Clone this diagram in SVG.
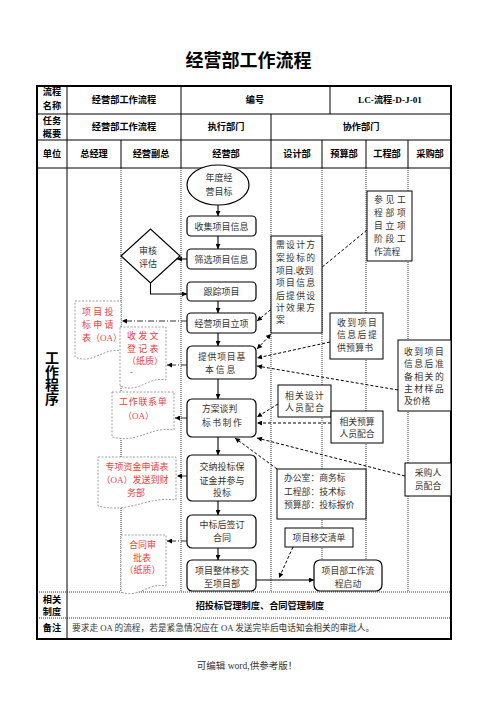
<svg xmlns="http://www.w3.org/2000/svg" width="496" height="702" viewBox="0 0 496 702">
<defs>
<marker id="ah" viewBox="0 0 10 10" refX="10" refY="5" markerWidth="6" markerHeight="5" markerUnits="userSpaceOnUse" orient="auto-start-reverse"><path d="M0,0 L10,5 L0,10 z" fill="#000"/></marker>
</defs>
<style>
text{font-family:"Liberation Serif","Noto Sans CJK SC",serif}
.tt{font-size:18px;font-weight:bold;text-anchor:middle;fill:#000}
.h{font-size:9.2px;font-weight:bold;text-anchor:middle;fill:#000}
.n{font-size:9px;text-anchor:middle;fill:#333}
.s{font-size:8.8px;fill:#333}
.r{font-size:9px;fill:#e8413c}
.box{fill:#fff;stroke:#000;stroke-width:1.2}
.note{fill:#fff;stroke:#000;stroke-width:1}
.doc{fill:#fff;stroke:#888;stroke-width:0.8;stroke-dasharray:2,1.5}
.grid{stroke:#000;stroke-width:1;fill:none}
.lane{stroke:#000;stroke-width:0.8;stroke-dasharray:1,1;fill:none}
.sol{stroke:#000;stroke-width:1.1;fill:none}
.dsh{stroke:#000;stroke-width:1;stroke-dasharray:3,2;fill:none}
.dd{stroke:#333;stroke-width:1;stroke-dasharray:6,2,1,2;fill:none}
</style>

<text class="tt" x="248.5" y="67">经营部工作流程</text>

<g id="table">
<rect x="37" y="86" width="414" height="553" fill="#fff" stroke="#000" stroke-width="2"/>
<line class="grid" x1="37" y1="114" x2="451" y2="114"/>
<line class="grid" x1="37" y1="140" x2="451" y2="140"/>
<line class="grid" x1="37" y1="168" x2="451" y2="168"/>
<line class="lane" x1="37" y1="592" x2="451" y2="592"/>
<line class="lane" x1="37" y1="618" x2="451" y2="618"/>
<line class="grid" x1="67" y1="86" x2="67" y2="639"/>
<line class="grid" x1="181" y1="86" x2="181" y2="168"/>
<line class="grid" x1="330" y1="86" x2="330" y2="114"/>
<line class="grid" x1="271" y1="114" x2="271" y2="168"/>
<line class="grid" x1="121" y1="140" x2="121" y2="168"/>
<line class="grid" x1="322" y1="140" x2="322" y2="168"/>
<line class="grid" x1="366" y1="140" x2="366" y2="168"/>
<line class="grid" x1="408" y1="140" x2="408" y2="168"/>
<line class="lane" x1="121" y1="168" x2="121" y2="592"/>
<line class="lane" x1="181" y1="168" x2="181" y2="592"/>
<line class="lane" x1="271" y1="168" x2="271" y2="592"/>
<line class="lane" x1="322" y1="168" x2="322" y2="592"/>
<line class="lane" x1="366" y1="168" x2="366" y2="592"/>
<line class="lane" x1="408" y1="168" x2="408" y2="592"/>

<text class="h" x="52" y="95">流程</text>
<text class="h" x="52" y="109">名称</text>
<text class="h" x="124" y="103">经营部工作流程</text>
<text class="h" x="255" y="103">编号</text>
<text class="h" x="390" y="103">LC-流程-D-J-01</text>
<text class="h" x="52" y="124">任务</text>
<text class="h" x="52" y="137">概要</text>
<text class="h" x="124" y="130">经营部工作流程</text>
<text class="h" x="226" y="130">执行部门</text>
<text class="h" x="361" y="130">协作部门</text>
<text class="h" x="52" y="157">单位</text>
<text class="h" x="94" y="157">总经理</text>
<text class="h" x="151" y="157">经营副总</text>
<text class="h" x="226" y="157">经营部</text>
<text class="h" x="297" y="157">设计部</text>
<text class="h" x="344" y="157">预算部</text>
<text class="h" x="387" y="157">工程部</text>
<text class="h" x="430" y="157">采购部</text>

<text x="52" y="363" style="font-size:14px;font-weight:bold;text-anchor:middle">工</text>
<text x="52" y="376.5" style="font-size:14px;font-weight:bold;text-anchor:middle">作</text>
<text x="52" y="390" style="font-size:14px;font-weight:bold;text-anchor:middle">程</text>
<text x="52" y="403.5" style="font-size:14px;font-weight:bold;text-anchor:middle">序</text>

<text class="h" x="52" y="603">相关</text>
<text class="h" x="52" y="615">制度</text>
<text class="h" x="260" y="609">招投标管理制度、合同管理制度</text>
<text class="h" x="52" y="631">备注</text>
<text x="72" y="631" style="font-size:8.7px;fill:#333">要求走 OA 的流程，若是紧急情况应在 OA 发送完毕后电话知会相关的审批人。</text>
</g>

<text x="247" y="669" style="font-size:9.5px;text-anchor:middle;fill:#333">可编辑 word,供参考版！</text>

<g id="connectors">
<line class="sol" x1="218" y1="205" x2="218" y2="216" marker-end="url(#ah)"/>
<line class="sol" x1="218" y1="236" x2="218" y2="249" marker-end="url(#ah)"/>
<line class="sol" x1="187" y1="259" x2="177" y2="259" marker-end="url(#ah)"/>
<polyline class="sol" points="150.5,283 150.5,294 187,294" marker-end="url(#ah)"/>
<line class="sol" x1="218" y1="301" x2="218" y2="313" marker-end="url(#ah)"/>
<line class="sol" x1="218" y1="333" x2="218" y2="346" marker-end="url(#ah)"/>
<line class="sol" x1="218" y1="379" x2="218" y2="399" marker-end="url(#ah)"/>
<line class="sol" x1="218" y1="437" x2="218" y2="455" marker-end="url(#ah)"/>
<line class="sol" x1="218" y1="501" x2="218" y2="515" marker-end="url(#ah)"/>
<line class="sol" x1="218" y1="548" x2="218" y2="560" marker-end="url(#ah)"/>
<line class="sol" x1="256" y1="580" x2="314" y2="580" marker-end="url(#ah)"/>

<line class="dd" x1="187" y1="321" x2="122" y2="321" marker-end="url(#ah)"/>
<line class="dd" x1="187" y1="365" x2="167" y2="365" marker-end="url(#ah)"/>
<line class="dd" x1="187" y1="418" x2="175" y2="418" marker-end="url(#ah)"/>
<line class="dd" x1="187" y1="476" x2="177" y2="476" marker-end="url(#ah)"/>
<line class="dd" x1="187" y1="541" x2="167" y2="541" marker-end="url(#ah)"/>

<line class="dsh" x1="367" y1="230" x2="257" y2="321" marker-end="url(#ah)"/>
<line class="dsh" x1="257" y1="349" x2="271" y2="334" marker-start="url(#ah)" marker-end="url(#ah)"/>
<line class="dsh" x1="330" y1="342" x2="257" y2="358" marker-end="url(#ah)"/>
<line class="dsh" x1="398" y1="390" x2="257" y2="366" marker-end="url(#ah)"/>
<line class="dsh" x1="278" y1="404" x2="257" y2="417" marker-end="url(#ah)"/>
<line class="dsh" x1="331" y1="423" x2="257" y2="423" marker-end="url(#ah)"/>
<line class="dsh" x1="405" y1="476" x2="257" y2="438" marker-end="url(#ah)"/>
<line class="dsh" x1="277" y1="469" x2="235" y2="438" marker-end="url(#ah)"/>
<line class="dsh" x1="293" y1="547" x2="279" y2="578" stroke-dasharray="2,2" marker-end="url(#ah)"/>
</g>

<g id="n-goal"><ellipse cx="218" cy="185" rx="31" ry="20" class="box"/>
<text class="n" x="219" y="181">年度经</text><text class="n" x="219" y="195">营目标</text></g>
<g id="n-collect"><rect x="187" y="216" width="69" height="20" rx="4" class="box"/><text class="n" x="221.5" y="229.5">收集项目信息</text></g>
<g id="n-filter"><rect x="187" y="249" width="69" height="20" rx="4" class="box"/><text class="n" x="221.5" y="262.5">筛选项目信息</text></g>
<g id="n-review"><polygon points="121,256 150.5,229 180,256 150.5,283" class="box"/>
<text class="n" x="148" y="254">审核</text><text class="n" x="148" y="267">评估</text></g>
<g id="n-track"><rect x="187" y="282" width="69" height="19" rx="4" class="box"/><text class="n" x="221.5" y="295">跟踪项目</text></g>
<g id="n-setup"><rect x="187" y="313" width="69" height="20" rx="4" class="box"/><text class="n" x="221.5" y="326.5">经营项目立项</text></g>
<g id="n-info"><rect x="187" y="346" width="69" height="33" rx="5" class="box"/>
<text class="s" x="198" y="360" style="letter-spacing:0.8px">提供项目基</text><text class="s" x="205" y="373" style="letter-spacing:2px">本信息</text></g>
<g id="n-plan"><rect x="187" y="399" width="69" height="38" rx="5" class="box"/>
<text class="s" x="202" y="412">方案谈判</text><text class="s" x="202" y="426" style="letter-spacing:1.5px">标书制作</text></g>
<g id="n-bid"><rect x="187" y="455" width="69" height="46" rx="5" class="box"/>
<text class="n" x="222" y="470">交纳投标保</text><text class="n" x="222" y="484">证金并参与</text><text class="n" x="222" y="496">投标</text></g>
<g id="n-contract"><rect x="187" y="515" width="69" height="33" rx="5" class="box"/>
<text class="n" x="222" y="528">中标后签订</text><text class="n" x="222" y="541">合同</text></g>
<g id="n-handover"><rect x="187" y="560" width="69" height="31" rx="5" class="box"/>
<text class="n" x="222" y="574">项目整体移交</text><text class="n" x="222" y="587">至项目部</text></g>

<g id="d-bidapp"><path class="doc" d="M75,301 H121 V351 C103,347 94,365 75,357 Z"/>
<text class="r" x="82" y="315" style="letter-spacing:2.3px">项目投</text>
<text class="r" x="82" y="328" style="letter-spacing:2.3px">标申请</text>
<text class="r" x="82" y="341">表（OA）</text></g>
<g id="d-register"><path class="doc" d="M120,327 H166 V380 C148,376 139,394 120,386 Z"/>
<text class="r" x="127" y="339" style="letter-spacing:2.3px">收发文</text>
<text class="r" x="127" y="352" style="letter-spacing:2.3px">登记表</text>
<text class="r" x="127" y="364">（纸质）</text>
<text class="r" x="130" y="375">-</text></g>
<g id="d-contact"><path class="doc" d="M112,392 H174 V430 C150,426 138,444 112,437 Z"/>
<text class="r" x="119" y="405" style="letter-spacing:0.7px">工作联系单</text>
<text class="r" x="123" y="419">（OA）</text></g>
<g id="d-fund"><path class="doc" d="M98,457 H176 V500 C146,496 130,514 98,506 Z"/>
<text class="r" x="137" y="470" style="text-anchor:middle">专项资金申请表</text>
<text class="r" x="135" y="483" style="text-anchor:middle">（OA）发送到财</text>
<text class="r" x="136" y="496" style="text-anchor:middle">务部</text></g>
<g id="d-approve"><path class="doc" d="M121,535 H166 V586 C148,582 139,599 121,592 Z"/>
<text class="r" x="142.5" y="548" style="text-anchor:middle">合同审</text>
<text class="r" x="142" y="561" style="text-anchor:middle">批表</text>
<text class="r" x="142.5" y="573" style="text-anchor:middle">（纸质）</text></g>

<g id="m-design"><rect x="271" y="236" width="51" height="97" class="note"/>
<text class="s" x="276" y="248" style="letter-spacing:1.3px">需设计方</text>
<text class="s" x="276" y="261" style="letter-spacing:1.3px">案投标的</text>
<text class="s" x="276" y="274">项目,收到</text>
<text class="s" x="276" y="286" style="letter-spacing:1.3px">项目信息</text>
<text class="s" x="276" y="299" style="letter-spacing:1.3px">后提供设</text>
<text class="s" x="276" y="311" style="letter-spacing:1.3px">计效果方</text>
<text class="s" x="276" y="323">案</text></g>
<g id="m-eng"><rect x="367" y="191" width="45" height="70" class="note"/>
<text class="s" x="374" y="203" style="letter-spacing:2.7px">参见工</text>
<text class="s" x="374" y="216" style="letter-spacing:2.7px">程部项</text>
<text class="s" x="374" y="229" style="letter-spacing:2.7px">目立项</text>
<text class="s" x="374" y="242" style="letter-spacing:2.7px">阶段工</text>
<text class="s" x="374" y="255">作流程</text></g>
<g id="m-budget"><rect x="330" y="313" width="53" height="46" class="note"/>
<text class="s" x="337" y="326" style="letter-spacing:1.5px">收到项目</text>
<text class="s" x="337" y="338" style="letter-spacing:1.5px">信息后提</text>
<text class="s" x="337" y="351" style="letter-spacing:0.3px">供预算书</text></g>
<g id="m-purchase"><rect x="398" y="340" width="53" height="71" class="note"/>
<text class="s" x="404" y="355" style="letter-spacing:1.5px">收到项目</text>
<text class="s" x="404" y="367" style="letter-spacing:1.5px">信息后准</text>
<text class="s" x="404" y="380" style="letter-spacing:1.5px">备相关的</text>
<text class="s" x="404" y="392" style="letter-spacing:1.5px">主材样品</text>
<text class="s" x="404" y="404">及价格</text></g>
<g id="m-designer"><rect x="278" y="385" width="53" height="32" class="note"/>
<text class="s" x="285" y="399" style="letter-spacing:1.2px">相关设计</text>
<text class="s" x="285" y="411" style="letter-spacing:1.2px">人员配合</text></g>
<g id="m-budgeter"><rect x="331" y="411" width="52" height="32" class="note"/>
<text class="s" x="357" y="425" style="text-anchor:middle">相关预算</text>
<text class="s" x="357" y="437" style="text-anchor:middle">人员配合</text></g>
<g id="m-buyer"><rect x="405" y="463" width="46" height="33" class="note"/>
<text class="s" x="428" y="476" style="text-anchor:middle">采购人</text>
<text class="s" x="428" y="489" style="text-anchor:middle">员配合</text></g>
<g id="m-office"><rect x="277" y="469" width="89" height="50" class="note"/>
<text class="s" x="284" y="481">办公室：商务标</text>
<text class="s" x="284" y="495">工程部：技术标</text>
<text class="s" x="284" y="508">预算部：投标报价</text></g>
<g id="m-list"><rect x="285" y="528" width="68" height="19" class="note"/>
<text class="s" x="319" y="541" style="text-anchor:middle">项目移交清单</text></g>
<g id="m-start"><rect x="314" y="560" width="68" height="31" rx="6" class="box"/>
<text class="s" x="348" y="574" style="text-anchor:middle">项目部工作流</text>
<text class="s" x="348" y="587" style="text-anchor:middle">程启动</text></g>
</svg>
